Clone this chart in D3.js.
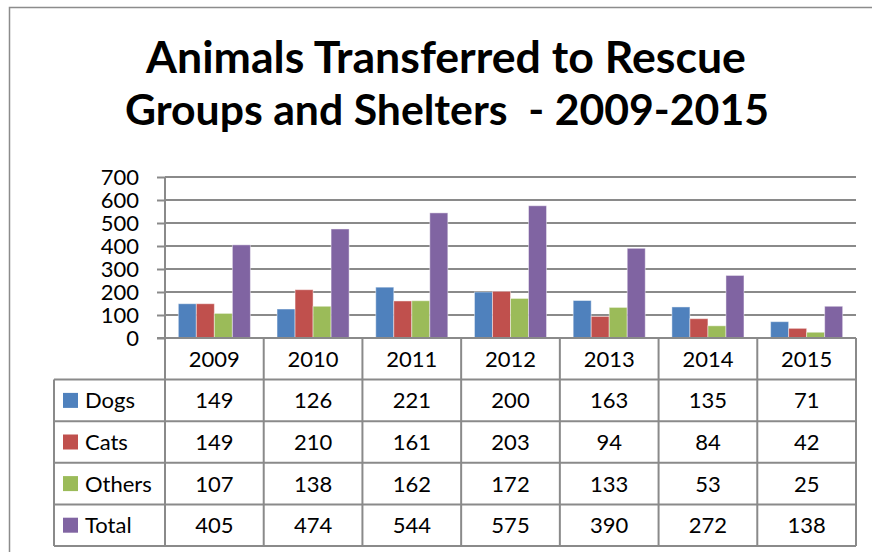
<!DOCTYPE html>
<html>
<head>
<meta charset="utf-8">
<script src="https://cdn.jsdelivr.net/npm/d3@7"></script>
<style>
  html, body { margin: 0; padding: 0; background: #fff; }
  svg { display: block; font-family: Lato, "Open Sans", sans-serif; }
</style>
</head>
<body>
<svg id="chart"></svg>
<script>
// chart data
const years = ["2009", "2010", "2011", "2012", "2013", "2014", "2015"];
const seriesNames = ["Dogs", "Cats", "Others", "Total"];
const dogs   = [149, 126, 221, 200, 163, 135, 71];
const cats   = [149, 210, 161, 203, 94, 84, 42];
const others = [107, 138, 162, 172, 133, 53, 25];
const total  = [405, 474, 544, 575, 390, 272, 138];
const yTicks = [0, 100, 200, 300, 400, 500, 600, 700];
const titleLines = ["Animals Transferred to Rescue", "Groups and Shelters  - 2009-2015"];

const seriesValues = [dogs, cats, others, total];
const colors = ["#4F81BD", "#C0504D", "#9BBB59", "#8064A2"];
const lineColor = "#8a8a8a";

const width = 872, height = 552;
const plot = {left: 165, right: 856, top: 177, bottom: 338};
const tableBottom = 546;
const legendLeft = 54;

const svg = d3.select("#chart").attr("width", width).attr("height", height);

// outer chart frame (runs off the right and bottom of the picture)
svg.append("rect")
    .attr("x", 9.5).attr("y", 7.5)
    .attr("width", 900).attr("height", 600)
    .attr("fill", "none")
    .attr("stroke", "#8c8c8c")
    .attr("stroke-width", 1.5);

// title, each line sized to its measured width
const titleSpecs = [{cx: 446, y: 73, w: 600}, {cx: 447, y: 125, w: 644}];
titleLines.forEach((t, i) => {
    const s = titleSpecs[i];
    const txt = svg.append("text")
        .attr("x", s.cx).attr("y", s.y)
        .attr("text-anchor", "middle")
        .attr("font-weight", "bold")
        .attr("font-size", 40)
        .attr("fill", "#000")
        .style("white-space", "pre")
        .text(t);
    const len = txt.node().getComputedTextLength();
    txt.attr("font-size", 40 * s.w / len);
});

// scales
const x0 = d3.scaleBand()
    .domain(years)
    .range([plot.left, plot.right])
    .padding(0);

const gap = x0.bandwidth() * 0.135;
const x1 = d3.scaleBand()
    .domain(seriesNames)
    .range([gap, x0.bandwidth() - gap])
    .padding(0);

const y = d3.scaleLinear()
    .domain([0, 700])
    .range([plot.bottom, plot.top]);

const rows = d3.scaleBand()
    .domain(["header"].concat(seriesNames))
    .range([plot.bottom, tableBottom]);

// gridlines
svg.append("g")
    .selectAll("line")
    .data(yTicks.slice(1))
    .join("line")
    .attr("x1", plot.left).attr("x2", plot.right)
    .attr("y1", d => y(d)).attr("y2", d => y(d))
    .attr("stroke", lineColor)
    .attr("stroke-width", 2);

// y axis
const yAxis = svg.append("g")
    .attr("transform", `translate(${plot.left},0)`)
    .call(d3.axisLeft(y).tickValues(yTicks).tickSize(8).tickPadding(18));
yAxis.select(".domain").remove();
yAxis.selectAll(".tick line").attr("stroke", lineColor).attr("stroke-width", 2);
yAxis.selectAll(".tick text")
    .attr("font-family", "Lato, 'Open Sans', sans-serif")
    .attr("font-size", 22)
    .attr("fill", "#000")
    .attr("dy", "0.36em");

// bars
svg.append("g")
    .selectAll("g")
    .data(years)
    .join("g")
    .attr("transform", d => `translate(${x0(d)},0)`)
    .selectAll("rect")
    .data((d, i) => seriesNames.map((s, si) => ({key: s, value: seriesValues[si][i], color: colors[si]})))
    .join("rect")
    .attr("x", d => x1(d.key))
    .attr("y", d => y(d.value))
    .attr("width", x1.bandwidth())
    .attr("height", d => y(0) - y(d.value))
    .attr("fill", d => d.color)
    .attr("stroke", "rgba(255,255,255,0.45)")
    .attr("stroke-width", 1);

// data table lines
const grid = svg.append("g").attr("stroke", lineColor).attr("stroke-width", 2);
// axis / header top line
grid.append("line")
    .attr("x1", plot.left - 8).attr("x2", plot.right)
    .attr("y1", plot.bottom).attr("y2", plot.bottom);
// y axis line
grid.append("line")
    .attr("x1", plot.left).attr("x2", plot.left)
    .attr("y1", plot.top).attr("y2", tableBottom);
// row lines
grid.selectAll(".rowline")
    .data(seriesNames)
    .join("line")
    .attr("class", "rowline")
    .attr("x1", legendLeft).attr("x2", plot.right)
    .attr("y1", d => rows(d)).attr("y2", d => rows(d));
grid.append("line")
    .attr("x1", legendLeft).attr("x2", plot.right)
    .attr("y1", tableBottom).attr("y2", tableBottom);
// column lines
grid.selectAll(".colline")
    .data(years)
    .join("line")
    .attr("class", "colline")
    .attr("x1", d => x0(d) + x0.bandwidth()).attr("x2", d => x0(d) + x0.bandwidth())
    .attr("y1", plot.bottom).attr("y2", tableBottom);
grid.append("line")
    .attr("x1", legendLeft).attr("x2", legendLeft)
    .attr("y1", rows("Dogs")).attr("y2", tableBottom);

// header years
svg.append("g")
    .selectAll("text")
    .data(years)
    .join("text")
    .attr("x", d => x0(d) + x0.bandwidth() / 2)
    .attr("y", rows("header") + rows.bandwidth() / 2)
    .attr("dy", "0.36em")
    .attr("text-anchor", "middle")
    .attr("font-size", 22)
    .text(d => d);

// legend column + values
const rowG = svg.append("g")
    .selectAll("g")
    .data(seriesNames)
    .join("g")
    .attr("transform", d => `translate(0,${rows(d) + rows.bandwidth() / 2})`);

rowG.append("rect")
    .attr("x", 63).attr("y", -7.5)
    .attr("width", 15).attr("height", 15)
    .attr("fill", (d, i) => colors[i]);

rowG.append("text")
    .attr("x", 85)
    .attr("dy", "0.36em")
    .attr("font-size", 22)
    .text(d => d);

rowG.selectAll(".val")
    .data((d, si) => years.map((yr, i) => ({yr, v: seriesValues[si][i]})))
    .join("text")
    .attr("class", "val")
    .attr("x", d => x0(d.yr) + x0.bandwidth() / 2)
    .attr("dy", "0.36em")
    .attr("text-anchor", "middle")
    .attr("font-size", 22)
    .text(d => d.v);
</script>
</body>
</html>
